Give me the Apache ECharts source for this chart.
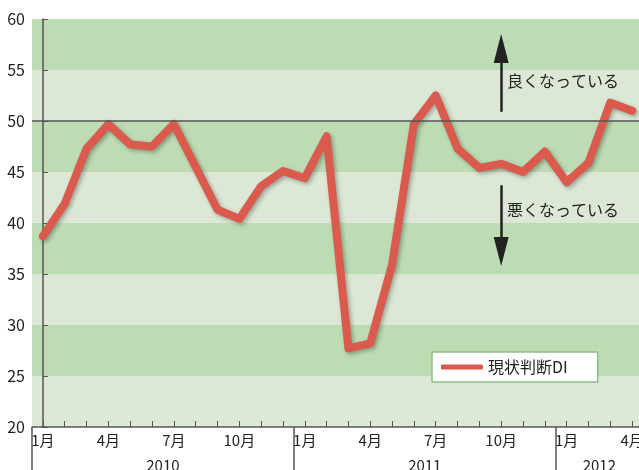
<!DOCTYPE html>
<html style="height: 100%">
<head>
    <meta charset="UTF-8">
    <title>現状判断DI</title>
</head>
<body style="height: 100%; margin: 0; background: #fff">
    <div id="container" style="width: 639px; height: 470px"></div>

    <script src="https://cdn.jsdelivr.net/npm/echarts@6/dist/echarts.min.js"></script>

    <script type="text/javascript">
        // 2010年1月 - 2012年4月
        var categories = [
            '2010-01', '2010-02', '2010-03', '2010-04', '2010-05', '2010-06',
            '2010-07', '2010-08', '2010-09', '2010-10', '2010-11', '2010-12',
            '2011-01', '2011-02', '2011-03', '2011-04', '2011-05', '2011-06',
            '2011-07', '2011-08', '2011-09', '2011-10', '2011-11', '2011-12',
            '2012-01', '2012-02', '2012-03', '2012-04'
        ];
        var diValues = [
            38.7, 41.9, 47.3, 49.7, 47.7, 47.5, 49.7, 45.5, 41.3, 40.4, 43.6, 45.1,
            44.4, 48.5, 27.7, 28.2, 35.9, 49.7, 52.5, 47.3, 45.4, 45.8, 45.0, 47.0,
            44.0, 45.9, 51.8, 51.0
        ];
        var yearLabels = ['2010', '2011', '2012'];
        var yearCenters = [5.5, 17.5, 25.5];
        var yearBounds = [-0.5, 11.5, 23.5];

        var FONT = '"Noto Sans CJK JP", "Noto Sans", sans-serif';
        var dom = document.getElementById('container');
        var myChart = echarts.init(dom);

        var option = {
            animation: false,
            textStyle: {fontFamily: FONT},
            grid: {left: 32, right: -4, top: 19, bottom: 43, containLabel: false, outerBoundsMode: 'none'},
            legend: {
                data: ['現状判断DI'],
                left: 432,
                top: 352,
                orient: 'horizontal',
                icon: 'roundRect',
                itemWidth: 42,
                itemHeight: 5,
                padding: [7, 30, 7, 9],
                backgroundColor: '#fff',
                borderColor: '#8cc184',
                borderWidth: 1.5,
                borderRadius: 0,
                textStyle: {fontFamily: FONT, fontSize: 16, color: '#222'}
            },
            xAxis: [
                {
                    type: 'category',
                    position: 'bottom',
                    data: categories,
                    boundaryGap: true,
                    axisLine: {show: true, lineStyle: {color: '#555', width: 1.5}},
                    axisTick: {
                        show: true, inside: true, length: 6, interval: 0, alignWithLabel: true,
                        lineStyle: {color: '#555', width: 1}
                    },
                    axisLabel: {
                        interval: 2,
                        margin: 6,
                        fontSize: 15,
                        color: '#222',
                        fontFamily: FONT,
                        formatter: function (v) {
                            return parseInt(v.split('-')[1], 10) + '月';
                        }
                    },
                    splitLine: {show: false}
                },
                {
                    type: 'value',
                    position: 'bottom',
                    min: -0.5,
                    max: 27.5,
                    axisLine: {show: false},
                    axisTick: {
                        show: true, length: 50, customValues: yearBounds,
                        lineStyle: {color: '#555', width: 1.5}
                    },
                    axisLabel: {
                        customValues: yearCenters,
                        margin: 31,
                        fontSize: 15,
                        color: '#222',
                        fontFamily: FONT,
                        formatter: function (v) {
                            return yearLabels[yearCenters.indexOf(v)];
                        }
                    },
                    splitLine: {show: false}
                }
            ],
            yAxis: {
                type: 'value',
                min: 20,
                max: 60,
                interval: 5,
                axisLine: {show: true, lineStyle: {color: '#555', width: 1.5}},
                axisTick: {show: true, inside: true, length: 5, lineStyle: {color: '#555'}},
                axisLabel: {margin: 7, fontSize: 16, color: '#222', fontFamily: FONT},
                splitLine: {show: false},
                splitArea: {show: true, areaStyle: {color: ['#dce8d5', '#bddcb4']}}
            },
            series: [
                {
                    name: 'annot',
                    type: 'line',
                    data: [],
                    z: 1,
                    silent: true,
                    markLine: {
                        silent: true,
                        animation: false,
                        symbol: ['none', 'none'],
                        label: {show: false},
                        data: [
                            {yAxis: 50, lineStyle: {color: '#555', width: 1.5, type: 'solid'}},
                            [
                                {coord: [21, 50.9]},
                                {coord: [21, 57.1], symbol: 'triangle', symbolSize: [15, 29]}
                            ],
                            [
                                {coord: [21, 43.7]},
                                {coord: [21, 37.2], symbol: 'triangle', symbolSize: [15, 29]}
                            ]
                        ],
                        lineStyle: {color: '#222', width: 2.5, type: 'solid'},
                        itemStyle: {color: '#222'}
                    }
                },
                {
                    name: '現状判断DI',
                    type: 'line',
                    data: diValues,
                    z: 3,
                    showSymbol: false,
                    symbol: 'none',
                    itemStyle: {color: '#da5a4e'},
                    lineStyle: {
                        color: '#da5a4e', width: 8, cap: 'round', join: 'round',
                        shadowColor: 'rgba(0,0,0,0.3)', shadowBlur: 4, shadowOffsetX: 2, shadowOffsetY: 2
                    }
                }
            ],
            graphic: {
                elements: [
                    {type: 'text', left: 507, top: 73, z: 10,
                        style: {text: '良くなっている', fontSize: 16, fontFamily: FONT, fill: '#222'}},
                    {type: 'text', left: 507, top: 202, z: 10,
                        style: {text: '悪くなっている', fontSize: 16, fontFamily: FONT, fill: '#222'}}
                ]
            }
        };

        myChart.setOption(option, true);
    </script>
</body>
</html>
